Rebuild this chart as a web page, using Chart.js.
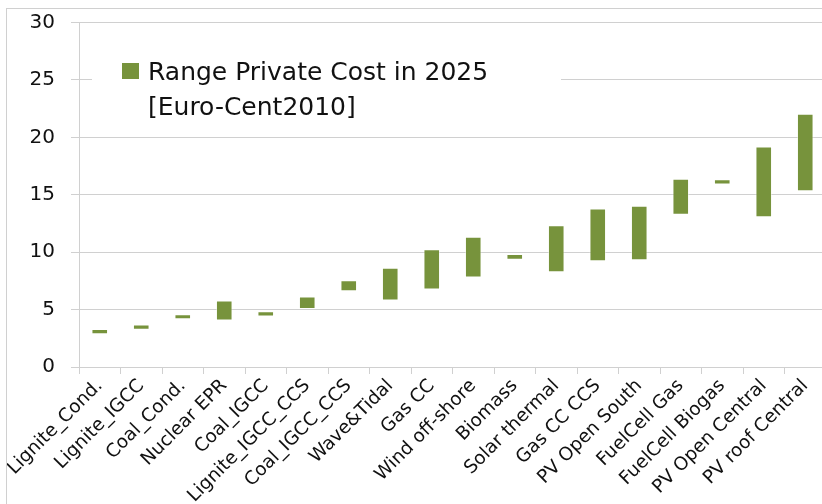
<!DOCTYPE html>
<html>
<head>
<meta charset="utf-8">
<script src="https://cdn.jsdelivr.net/npm/chart.js@4.4.1/dist/chart.umd.min.js"></script>
<style>
  html, body { margin: 0; padding: 0; background: #fff; overflow: hidden; }
  #wrap {
    position: absolute; left: 6px; top: 8px;
    width: 822px; height: 495px;
    border-left: 1px solid #d0d0d0; border-top: 1px solid #d0d0d0;
  }
</style>
</head>
<body>
<div id="wrap"><canvas id="chart"></canvas></div>
<script>
const categories = [
  'Lignite_Cond.', 'Lignite_IGCC', 'Coal_Cond.', 'Nuclear EPR', 'Coal_IGCC',
  'Lignite_IGCC_CCS', 'Coal_IGCC_CCS', 'Wave&Tidal', 'Gas CC', 'Wind off-shore',
  'Biomass', 'Solar thermal', 'Gas CC CCS', 'PV Open South', 'FuelCell Gas',
  'FuelCell Biogas', 'PV Open Central', 'PV roof Central',
]
const lowValues = [2.85, 3.25, 4.15, 4.05, 4.4, 5.05, 6.6, 5.8, 6.75, 7.8, 9.35, 8.25, 9.2, 9.3, 13.25, 15.9, 13.05, 15.3]
const highValues = [3.3, 3.7, 4.6, 5.8, 4.85, 6.15, 7.55, 8.65, 10.25, 11.35, 9.85, 12.35, 13.8, 14.05, 16.4, 16.35, 19.2, 22.05]
const yTicks = [0, 5, 10, 15, 20, 25, 30]
const legendLines = ['Range Private Cost in 2025', '[Euro-Cent2010]']

const BAR_COLOR = '#77933c'
const GRID_COLOR = '#d0d0d0'
const TEXT_COLOR = '#111'
const FONT = '"DejaVu Sans", sans-serif'

// legend drawn by hand: two text lines next to one swatch, on a white box
const rangeLegend = {
  id: 'rangeLegend',
  beforeDatasetsDraw(chart) {
    const { ctx, chartArea } = chart
    const left = chartArea.left
    const top = chartArea.top
    ctx.save()
    ctx.fillStyle = '#fff'
    ctx.fillRect(left + 13, top + 30, 469, 70)
    ctx.fillStyle = BAR_COLOR
    ctx.fillRect(left + 43, top + 40.5, 17, 16)
    ctx.fillStyle = TEXT_COLOR
    ctx.font = '25px ' + FONT
    ctx.textBaseline = 'alphabetic'
    legendLines.forEach((line, i) => {
      ctx.fillText(line, left + 69, top + 57.5 + i * 34.5)
    })
    ctx.restore()
  },
}

new Chart(document.getElementById('chart'), {
  type: 'bar',
  data: {
    labels: categories,
    datasets: [
      {
        label: legendLines.join(' '),
        data: categories.map((_, i) => [lowValues[i], highValues[i]]),
        backgroundColor: BAR_COLOR,
        borderColor: 'rgba(255,255,255,0.45)',
        borderWidth: 1,
        borderSkipped: false,
        barPercentage: 0.8,
        categoryPercentage: 0.5,
      },
    ],
  },
  options: {
    responsive: true,
    maintainAspectRatio: false,
    animation: false,
    layout: {
      padding: { top: 13.5, right: 3, left: 0, bottom: 0 },
    },
    plugins: {
      legend: { display: false },
      tooltip: { enabled: false },
    },
    scales: {
      x: {
        afterFit(scale) {
          scale.height = 137
          scale.paddingLeft = 0
          scale.paddingRight = 0
        },
        grid: {
          drawOnChartArea: false,
          drawTicks: true,
          tickLength: 7,
          color: GRID_COLOR,
        },
        border: { display: true, color: GRID_COLOR },
        ticks: {
          color: TEXT_COLOR,
          font: { family: FONT, size: 18.5 },
          minRotation: 45,
          maxRotation: 45,
          autoSkip: false,
          padding: 1,
        },
      },
      y: {
        min: 0,
        max: 30,
        afterFit(scale) {
          scale.width = 72
          scale.paddingTop = 0
          scale.paddingBottom = 0
        },
        afterBuildTicks(scale) {
          scale.ticks = yTicks.map((value) => ({ value }))
        },
        grid: {
          color: GRID_COLOR,
          drawTicks: true,
          tickLength: 8,
        },
        border: { display: true, color: GRID_COLOR },
        ticks: {
          color: TEXT_COLOR,
          font: { family: FONT, size: 20 },
          padding: 16,
        },
      },
    },
  },
  plugins: [rangeLegend],
})
</script>
</body>
</html>
